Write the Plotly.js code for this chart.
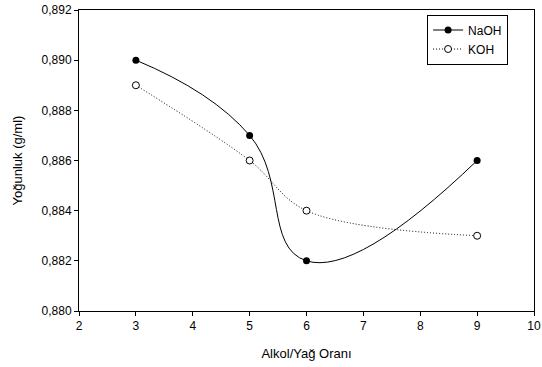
<!DOCTYPE html>
<html><head><meta charset="utf-8">
<script src="https://cdn.plot.ly/plotly-3.0.1.min.js"></script>
<style>html,body{margin:0;padding:0;background:#fff}#c{width:542px;height:367px}</style>
</head><body><div id="c"></div>
<script>
const ratio = [3, 5, 6, 9];
const naoh = [0.890, 0.887, 0.882, 0.886];
const koh = [0.889, 0.886, 0.884, 0.883];
const xTicks = [2, 3, 4, 5, 6, 7, 8, 9, 10];
const yTicks = [0.880, 0.882, 0.884, 0.886, 0.888, 0.890, 0.892];
const yTickText = yTicks.map(v => v.toFixed(3).replace('.', ','));

const fam = 'Liberation Sans, Arial, sans-serif';
const font = {family: fam, size: 12, color: '#000'};
const traces = [
  {x: ratio, y: naoh, name: 'NaOH', type: 'scatter', mode: 'lines+markers',
   line: {shape: 'spline', smoothing: 1.3, color: '#000', width: 1},
   marker: {symbol: 'circle', size: 7, color: '#000'}},
  {x: ratio, y: koh, name: 'KOH', type: 'scatter', mode: 'lines+markers',
   line: {shape: 'spline', smoothing: 1, color: '#000', width: 1, dash: '1px,2px'},
   marker: {symbol: 'circle', size: 7, color: '#fff', line: {color: '#000', width: 1}}}
];
const layout = {
  width: 542, height: 367,
  margin: {l: 79, r: 8, t: 10, b: 56},
  paper_bgcolor: '#fff', plot_bgcolor: '#fff',
  font: font, showlegend: true,
  legend: {x: 0.765, y: 0.985, xanchor: 'left', yanchor: 'top', bgcolor: '#fff',
    bordercolor: '#000', borderwidth: 1, font: {family: fam, size: 12, color: '#000'},
    tracegroupgap: 0, itemwidth: 30},
  xaxis: {range: [2, 10], tickvals: xTicks, ticktext: xTicks.map(String),
    showgrid: false, zeroline: false, showline: true, linecolor: '#000', linewidth: 1,
    mirror: true, ticks: 'outside', ticklen: 4, tickcolor: '#000',
    tickfont: {family: fam, size: 12, color: '#000'},
    title: {text: 'Alkol/Yağ Oranı', font: {family: fam, size: 13, color: '#000'}, standoff: 16}},
  yaxis: {range: [0.880, 0.892], tickvals: yTicks, ticktext: yTickText,
    showgrid: false, zeroline: false, showline: true, linecolor: '#000', linewidth: 1,
    mirror: true, ticks: 'outside', ticklen: 4, tickcolor: '#000',
    tickfont: {family: fam, size: 12, color: '#000'},
    title: {text: 'Yoğunluk (g/ml)', font: {family: fam, size: 13, color: '#000'}, standoff: 16}}
};
Plotly.newPlot('c', traces, layout, {displayModeBar: false, staticPlot: true});
</script></body></html>
